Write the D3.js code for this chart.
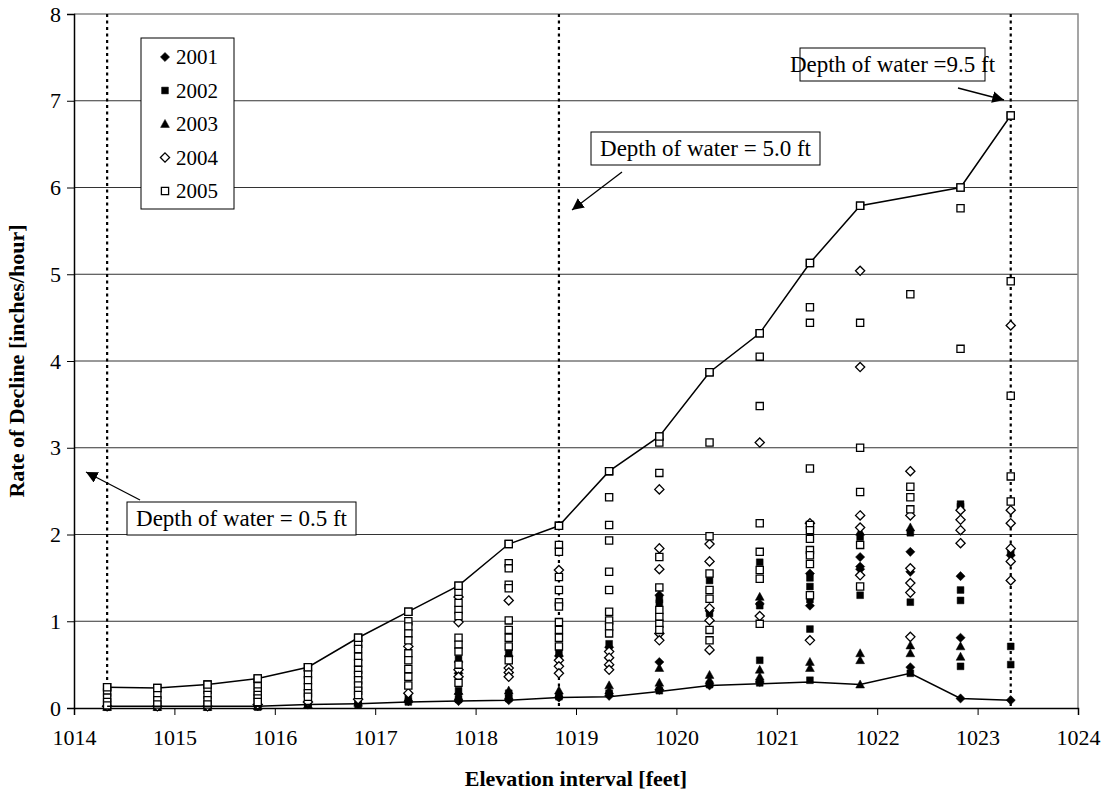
<!DOCTYPE html>
<html>
<head>
<meta charset="utf-8">
<title>Rate of Decline</title>
<script src="https://d3js.org/d3.v7.min.js"></script>
<style>
  body { margin: 0; background: #fff; }
  svg, svg text { font-family: "Liberation Serif", "Times New Roman", "DejaVu Serif", serif !important; }
</style>
</head>
<body>
<div id="chart"></div>
<script>
// elevation intervals (x positions of the columns)
var elevations = [1014.33, 1014.83, 1015.33, 1015.83, 1016.33, 1016.83, 1017.33, 1017.83, 1018.33, 1018.83,
                  1019.33, 1019.83, 1020.33, 1020.83, 1021.33, 1021.83, 1022.33, 1022.83, 1023.33];

// values per column, one list per year
var y2001 = [[0.02],[0.02],[0.02],[0.02],[0.04],[0.05],[0.08],[0.53,0.4,0.16,0.08],[0.6,0.09],[0.6,0.12],
             [0.7,0.14],[1.3,0.53,0.21],[1.12,0.26],[1.2,0.3],[1.55,1.18,0.78],[1.74,1.63,1.6],[1.8,1.57,0.47],[1.52,0.81,0.11],[1.76,0.09]];
var y2002 = [[0.01],[0.01],[0.01],[0.01],[0.05],[0.08,0.04],[0.12,0.07],[0.57,0.2,0.1],[0.63,0.17,0.11],[0.63,0.13],
             [0.74,0.17],[1.25,1.21,0.2],[1.47,1.09,0.27],[1.68,1.18,0.55,0.29],[1.5,1.4,1.25,0.91,0.32],[1.97,1.3],[2.02,1.22,0.4],[2.35,2.32,1.36,1.24,0.48],[1.8,0.71,0.5]];
var y2003 = [[0.01],[0.01],[0.01],[0.02],[0.04],[0.06],[0.1],[0.13],[0.2,0.14],[0.2,0.16],
             [0.26,0.2],[0.46,0.29,0.24],[0.38,0.32],[1.28,0.44,0.36],[0.53,0.46],[2.03,0.63,0.55,0.27],[2.08,0.72,0.63],[0.71,0.59],[]];
var y2004 = [[0.02],[0.02],[0.02],[0.04],[0.07],[0.1],[0.71,0.17],[1.28,0.99,0.44,0.36],[1.24,0.46,0.41,0.36],[1.59,0.55,0.48,0.4],
             [0.65,0.58,0.5,0.44],[2.52,1.84,1.6,0.86,0.78],[1.89,1.69,1.15,1.01,0.67],[3.06,1.06],[2.13,0.78],[5.04,3.93,2.22,2.08,1.53],
             [2.73,2.22,1.61,1.44,1.33,0.82],[2.28,2.17,2.05,1.9],[4.41,2.28,2.13,1.84,1.69,1.47]];
var y2005 = [[0.24,0.18,0.12,0.07,0.03],[0.23,0.15,0.09,0.04],[0.27,0.21,0.15,0.09,0.04],[0.34,0.29,0.25,0.19,0.15,0.11,0.07],
             [0.47,0.39,0.32,0.24,0.17,0.13],[0.81,0.74,0.68,0.59,0.52,0.44,0.38,0.32,0.26,0.2,0.15],
             [1.11,1.0,0.94,0.86,0.78,0.63,0.55,0.45,0.36,0.26],[1.41,1.34,1.21,1.13,1.06,0.81,0.73,0.65,0.5,0.29],
             [1.89,1.67,1.61,1.42,1.38,1.01,0.9,0.81,0.71,0.55],[2.1,1.88,1.8,1.51,1.36,1.22,1.17,0.99,0.9,0.81,0.71],
             [2.73,2.43,2.11,1.93,1.57,1.36,1.11,1.01,0.94,0.86],[3.13,3.06,2.71,1.74,1.39,1.13,1.05,0.97,0.9],
             [3.87,3.06,1.98,1.55,1.36,1.26,0.9,0.78],[4.32,4.05,3.48,2.13,1.8,1.59,1.49,0.97],
             [5.13,4.62,4.44,2.76,2.11,2.05,1.95,1.82,1.76,1.66,1.3],[5.79,4.44,3.0,2.49,1.88,1.4],
             [4.77,2.55,2.43,2.29],[6.0,5.76,4.14],[6.83,4.92,3.6,2.67,2.38]];

// envelope lines
var upperX = [1014.33, 1014.83, 1015.33, 1015.83, 1016.33, 1016.83, 1017.33, 1017.83, 1018.33, 1018.83,
              1019.33, 1019.83, 1020.33, 1020.83, 1021.33, 1021.83, 1022.83, 1023.33];
var upperY = [0.24, 0.23, 0.27, 0.34, 0.47, 0.81, 1.11, 1.41, 1.89, 2.1, 2.73, 3.13, 3.87, 4.32, 5.13, 5.79, 6.0, 6.83];
var lowerY = [0.02, 0.02, 0.02, 0.02, 0.04, 0.05, 0.07, 0.08, 0.09, 0.12, 0.13, 0.19, 0.26, 0.28, 0.3, 0.27, 0.4, 0.11, 0.09];

var years = ["2001", "2002", "2003", "2004", "2005"];
var xTicks = [1014, 1015, 1016, 1017, 1018, 1019, 1020, 1021, 1022, 1023, 1024];
var yTicks = [0, 1, 2, 3, 4, 5, 6, 7, 8];
var depthLines = [1014.33, 1018.83, 1023.33];

var serif = "'Liberation Serif', 'Times New Roman', serif";

var margin = {top: 14, right: 29, bottom: 90, left: 74},
    W = 1107, H = 798,
    width = W - margin.left - margin.right,
    height = H - margin.top - margin.bottom;

var svg = d3.select("#chart").append("svg")
    .attr("width", W).attr("height", H)
    .attr("font-family", serif);

var defs = svg.append("defs");
defs.append("marker").attr("id", "arr")
    .attr("viewBox", "0 0 10 10").attr("refX", 10).attr("refY", 5)
    .attr("markerWidth", 9).attr("markerHeight", 9).attr("orient", "auto")
    .append("path").attr("d", "M0,0 L10,5 L0,10 z").attr("fill", "#000");

var g = svg.append("g").attr("transform", "translate(" + margin.left + "," + margin.top + ")");

var x = d3.scaleLinear().domain([1014, 1024]).range([0, width]);
var y = d3.scaleLinear().domain([0, 8]).range([height, 0]);

// grid lines
g.append("g").selectAll("line").data(yTicks.slice(1, -1)).enter().append("line")
    .attr("x1", 0).attr("x2", width)
    .attr("y1", function (d) { return y(d); }).attr("y2", function (d) { return y(d); })
    .attr("stroke", "#333").attr("stroke-width", 1);

// plot border (top / right)
g.append("path")
    .attr("d", "M0,0 H" + width + " V" + height)
    .attr("fill", "none").attr("stroke", "#888").attr("stroke-width", 1.5);

// axes
var xAxis = g.append("g").attr("transform", "translate(0," + height + ")")
    .call(d3.axisBottom(x).tickValues(xTicks).tickSize(7).tickPadding(14).tickFormat(d3.format("d")));
var yAxis = g.append("g")
    .call(d3.axisLeft(y).tickValues(yTicks).tickSize(7).tickPadding(6).tickFormat(d3.format("d")));
[xAxis, yAxis].forEach(function (a) {
  a.attr("font-family", serif).attr("font-size", 22);
  a.select(".domain").attr("stroke", "#000").attr("stroke-width", 1.5);
  a.selectAll(".tick line").attr("stroke", "#000");
  a.selectAll("text").attr("fill", "#000");
});

// dotted depth lines
g.append("g").selectAll("line").data(depthLines).enter().append("line")
    .attr("x1", function (d) { return x(d); }).attr("x2", function (d) { return x(d); })
    .attr("y1", 0).attr("y2", height)
    .attr("stroke", "#000").attr("stroke-width", 2.2).attr("stroke-dasharray", "3,3.5");

// marker shapes
function shape(year) {
  if (year === "2001" || year === "2004") return "M0,-4.6L4.6,0L0,4.6L-4.6,0Z";
  if (year === "2002") return "M-3.4,-3.4H3.4V3.4H-3.4Z";
  if (year === "2003") return "M0,-4.6L4.4,3.4H-4.4Z";
  return "M-3.6,-3.6H3.6V3.6H-3.6Z";
}
function filled(year) { return year !== "2004" && year !== "2005"; }

var seriesData = [y2001, y2002, y2003, y2004, y2005];

years.forEach(function (yr, i) {
  var pts = [];
  seriesData[i].forEach(function (col, k) {
    col.forEach(function (v) { pts.push([elevations[k], v]); });
  });
  g.append("g").selectAll("path").data(pts).enter().append("path")
      .attr("d", shape(yr))
      .attr("transform", function (d) { return "translate(" + x(d[0]) + "," + y(d[1]) + ")"; })
      .attr("fill", filled(yr) ? "#000" : "#fff")
      .attr("stroke", "#000").attr("stroke-width", filled(yr) ? 0.5 : 1.3);
});

// envelope lines
var line = d3.line().x(function (d) { return x(d[0]); }).y(function (d) { return y(d[1]); });
g.append("path")
    .datum(elevations.map(function (e, i) { return [e, lowerY[i]]; }))
    .attr("d", line).attr("fill", "none").attr("stroke", "#000").attr("stroke-width", 1.5);
var upperPts = upperX.map(function (e, i) { return [e, upperY[i]]; });
g.append("path").datum(upperPts)
    .attr("d", line).attr("fill", "none").attr("stroke", "#000").attr("stroke-width", 1.5);
g.append("g").selectAll("path").data(upperPts).enter().append("path")
    .attr("d", shape("2005"))
    .attr("transform", function (d) { return "translate(" + x(d[0]) + "," + y(d[1]) + ")"; })
    .attr("fill", "#fff").attr("stroke", "#000").attr("stroke-width", 1.3);

// annotations
function note(label, bx, by, bw, tipX, tipY, fromX, fromY) {
  g.append("rect").attr("x", bx).attr("y", by).attr("width", bw).attr("height", 33)
      .attr("fill", "#fff").attr("stroke", "#000").attr("stroke-width", 1);
  g.append("text").attr("x", bx + bw / 2).attr("y", by + 24)
      .attr("text-anchor", "middle").attr("font-size", 23).text(label);
  g.append("line").attr("x1", fromX).attr("y1", fromY).attr("x2", tipX).attr("y2", tipY)
      .attr("stroke", "#000").attr("stroke-width", 1.3).attr("marker-end", "url(#arr)");
}
note("Depth of water =9.5 ft", 800 - margin.left, 48 - margin.top, 185, 1004 - margin.left, 100 - margin.top, 958 - margin.left, 88 - margin.top);
note("Depth of water = 5.0 ft", 591 - margin.left, 132 - margin.top, 229, 572 - margin.left, 210 - margin.top, 622 - margin.left, 172 - margin.top);
note("Depth of water = 0.5 ft", 127 - margin.left, 502 - margin.top, 229, 86 - margin.left, 472 - margin.top, 140 - margin.left, 500 - margin.top);

// legend
var lg = svg.append("g").attr("transform", "translate(141,38)");
lg.append("rect").attr("width", 93).attr("height", 171)
    .attr("fill", "#fff").attr("stroke", "#000").attr("stroke-width", 1);
years.forEach(function (yr, i) {
  var row = lg.append("g").attr("transform", "translate(0," + (19 + i * 33.5) + ")");
  row.append("path").attr("d", shape(yr)).attr("transform", "translate(24,0)")
      .attr("fill", filled(yr) ? "#000" : "#fff")
      .attr("stroke", "#000").attr("stroke-width", filled(yr) ? 0.5 : 1.3);
  row.append("text").attr("x", 35).attr("y", 7).attr("font-size", 21).text(yr);
});

// axis titles
svg.append("text").attr("x", margin.left + width / 2).attr("y", 786)
    .attr("text-anchor", "middle").attr("font-size", 22).attr("font-weight", "bold")
    .text("Elevation interval [feet]");
svg.append("text").attr("transform", "translate(24," + (margin.top + height / 2) + ") rotate(-90)")
    .attr("text-anchor", "middle").attr("font-size", 22).attr("font-weight", "bold")
    .text("Rate of Decline [inches/hour]");
</script>
</body>
</html>
